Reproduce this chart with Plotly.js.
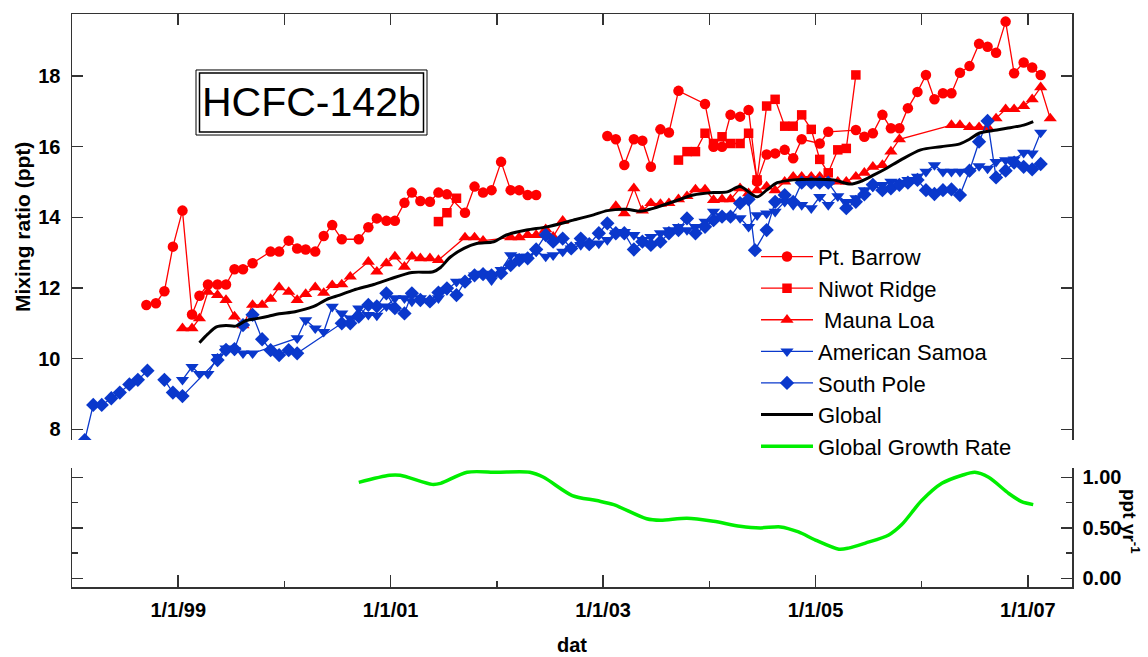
<!DOCTYPE html>
<html><head><meta charset="utf-8">
<script src="https://cdn.plot.ly/plotly-3.0.1.min.js"></script>
<style>html,body{margin:0;padding:0;background:#fff;}#chart{width:1148px;height:657px;}</style>
</head><body><div id="chart"></div>
<script>
// ---- data (decimal years, ppt) ----
const barrowX = [1998.70,1998.79,1998.87,1998.95,1999.04,1999.13,1999.20,1999.28,1999.37,1999.45,1999.53,1999.61,1999.70,1999.87,1999.95,2000.04,2000.12,2000.20,2000.29,2000.37,2000.45,2000.54,2000.70,2000.79,2000.87,2000.96,2001.04,2001.13,2001.20,2001.28,2001.37,2001.45,2001.53,2001.70,2001.79,2001.87,2001.95,2002.04,2002.13,2002.21,2002.29,2002.37,null,2003.04,2003.12,2003.20,2003.29,2003.37,2003.45,2003.54,2003.62,2003.71,2003.96,2004.04,2004.12,2004.20,2004.29,2004.37,2004.45,2004.54,2004.62,2004.71,2004.79,2004.87,2005.04,2005.12,2005.38,2005.46,2005.54,2005.63,2005.71,2005.79,2005.87,2005.96,2006.04,2006.12,2006.20,2006.28,2006.36,2006.45,2006.54,2006.62,2006.70,2006.79,2006.87,2006.96,2007.04,2007.12];
const barrowY = [11.52,11.57,11.91,13.17,14.19,11.25,11.78,12.10,12.10,12.10,12.53,12.53,12.70,13.03,13.03,13.34,13.12,13.09,13.03,13.47,13.78,13.38,13.38,13.72,13.97,13.90,13.90,14.41,14.70,14.46,14.44,14.70,14.65,14.13,14.87,14.70,14.77,15.57,14.77,14.77,14.63,14.63,null,16.30,16.21,15.48,16.21,16.17,15.43,16.49,16.40,17.58,17.21,16.00,16.00,16.90,16.85,17.04,15.01,15.78,15.81,15.91,15.67,16.21,16.09,16.42,16.47,16.28,16.38,16.90,16.52,16.52,17.09,17.55,18.03,17.34,17.51,17.51,18.09,18.28,18.91,18.83,18.66,19.54,18.08,18.38,18.24,18.03];

const niwotX = [2001.45,2001.53,2001.62,null,2003.71,2003.79,2003.87,2003.96,2004.04,2004.12,2004.20,2004.29,2004.37,2004.45,2004.54,2004.62,2004.71,2004.79,2004.87,2004.96,2005.04,2005.12,2005.21,2005.29,2005.38];
const niwotY = [13.88,14.13,14.54,null,15.62,15.86,15.86,16.38,16.09,16.28,16.09,16.09,16.38,15.06,17.15,17.34,16.58,16.58,16.90,16.49,15.64,15.26,15.91,15.95,18.03];

const maunaX = [1999.04,1999.13,1999.20,1999.28,1999.37,1999.45,1999.53,1999.61,1999.70,1999.79,1999.87,1999.95,2000.04,2000.12,2000.20,2000.29,2000.37,2000.45,2000.54,2000.62,2000.79,2000.87,2000.96,2001.04,2001.13,2001.20,2001.28,2001.37,2001.45,2001.70,2001.79,2001.87,2002.13,2002.21,2002.29,2002.37,2002.46,2002.53,2002.62,null,2003.12,2003.20,2003.29,2003.37,2003.45,2003.54,2003.62,2003.71,2003.79,2003.87,2003.96,2004.04,2004.12,2004.20,2004.29,2004.37,2004.45,2004.54,2004.62,2004.71,2004.79,2004.87,2004.96,2005.04,2005.12,2005.21,2005.29,2005.38,2005.46,2005.54,2005.63,2005.71,2005.79,2006.28,2006.36,2006.45,2006.54,2006.62,2006.70,2006.79,2006.87,2006.96,2007.04,2007.12,2007.21];
const maunaY = [10.86,10.86,11.14,11.89,11.80,11.66,11.19,10.94,11.52,11.52,11.69,12.02,11.89,11.66,11.83,12.02,11.86,12.08,12.10,12.32,12.74,12.46,12.70,12.89,12.60,12.89,12.84,12.84,12.79,13.43,13.43,13.34,13.43,13.43,13.50,13.50,13.66,13.45,13.90,null,14.32,14.11,14.82,14.19,14.40,14.38,14.40,14.51,14.60,14.79,14.79,14.49,14.51,14.51,14.82,14.68,14.76,14.87,14.76,15.01,15.15,15.15,15.15,15.15,15.01,15.01,15.01,15.15,15.26,15.43,15.48,15.86,16.21,16.61,16.61,16.55,16.55,16.55,16.80,17.06,17.06,17.15,17.34,17.68,16.80];

const samoaX = [1999.04,1999.13,1999.20,1999.28,1999.37,1999.45,1999.53,1999.61,1999.70,2000.12,2000.20,2000.29,2000.37,2000.45,2000.54,2000.62,2000.70,2000.79,2000.87,2000.96,2001.04,2001.13,2001.20,2001.28,2001.37,2001.45,2001.53,2001.62,2001.70,2001.79,2001.87,2001.95,2002.04,2002.13,2002.21,2002.29,2002.37,2002.46,2002.53,2002.62,2002.70,2002.79,2002.87,2002.96,2003.04,2003.12,2003.20,2003.29,2003.37,2003.45,2003.54,2003.62,2003.71,2003.79,2003.87,2003.96,2004.04,2004.12,2004.20,2004.29,2004.37,2004.45,2004.54,2004.62,2004.71,2004.79,2004.87,2004.96,2005.04,2005.12,2005.21,2005.29,2005.38,2005.46,2005.54,2005.63,2005.71,2005.79,2005.87,2005.96,2006.04,2006.12,2006.20,2006.28,2006.36,2006.45,2006.54,2006.62,2006.70,2006.79,2006.87,2006.96,2007.04,2007.12];
const samoaY = [9.40,9.77,9.57,9.57,10.05,10.29,10.24,10.15,10.15,10.58,11.09,10.86,10.76,11.47,11.28,11.14,11.42,11.24,11.22,11.48,11.71,11.71,11.62,11.71,11.62,11.71,11.94,12.18,12.18,12.36,12.41,12.22,12.51,12.93,12.89,12.89,13.03,12.89,12.93,13.03,13.12,13.22,13.22,13.26,13.36,13.55,13.59,13.50,13.36,13.45,13.55,13.64,13.73,13.64,13.73,13.88,14.16,14.02,14.02,13.98,13.73,14.06,14.11,14.16,14.44,14.35,14.35,14.26,14.58,14.35,14.60,14.44,14.54,14.77,14.87,14.92,15.01,14.98,15.06,15.15,15.29,15.48,15.29,15.29,15.29,15.29,15.45,15.38,15.57,15.62,15.64,15.83,15.81,16.40];

const poleX = [1998.12,1998.20,1998.28,1998.37,1998.45,1998.54,1998.62,1998.71,null,1998.87,1998.95,1999.04,1999.37,1999.45,1999.53,1999.61,1999.70,1999.79,1999.87,1999.95,2000.04,2000.12,2000.54,2000.62,2000.70,2000.79,2000.87,2000.96,2001.04,2001.13,2001.20,2001.28,2001.37,2001.45,2001.53,2001.62,2001.70,2001.79,2001.87,2001.95,2002.04,2002.13,2002.21,2002.29,2002.37,2002.46,2002.53,2002.62,2002.70,2002.79,2002.87,2002.96,2003.04,2003.12,2003.20,2003.29,2003.37,2003.45,2003.54,2003.62,2003.71,2003.79,2003.87,2003.96,2004.04,2004.12,2004.20,2004.29,2004.37,2004.43,2004.54,2004.62,2004.71,2004.79,2004.87,2004.96,2005.04,2005.12,2005.29,2005.38,2005.46,2005.54,2005.63,2005.71,2005.79,2005.87,2005.96,2006.04,2006.12,2006.20,2006.28,2006.36,2006.45,2006.54,2006.62,2006.70,2006.79,2006.87,2006.96,2007.04,2007.12];
const poleY = [7.69,8.69,8.69,8.88,9.04,9.27,9.40,9.66,null,9.40,9.04,8.94,9.96,10.25,10.27,10.95,11.24,10.55,10.24,10.10,10.24,10.15,11.00,11.00,11.19,11.52,11.48,11.85,11.43,11.28,11.85,11.66,11.62,11.87,11.99,11.80,12.18,12.36,12.39,12.36,12.42,12.65,12.79,12.84,13.09,13.50,13.31,13.40,13.12,13.40,13.24,13.55,13.83,13.55,13.55,13.09,13.31,13.22,13.31,13.55,13.64,13.97,13.55,13.73,13.92,14.02,14.02,14.40,14.51,13.07,13.64,14.44,14.63,14.44,14.98,14.98,14.98,14.98,14.26,14.44,14.65,14.92,14.77,14.82,14.92,14.98,15.06,14.77,14.66,14.77,14.79,14.63,15.32,16.14,16.73,15.13,15.32,15.55,15.43,15.36,15.51];

const globalX = [1999.20,1999.28,1999.36,1999.45,1999.54,1999.64,1999.75,1999.85,1999.95,2000.10,2000.27,2000.40,2000.52,2000.65,2000.84,2000.99,2001.20,2001.40,2001.47,2001.56,2001.69,2001.81,2001.97,2002.09,2002.28,2002.47,2002.72,2002.91,2003.04,2003.22,2003.35,2003.48,2003.66,2003.85,2004.04,2004.17,2004.29,2004.45,2004.54,2004.64,2004.79,2004.98,2005.17,2005.33,2005.42,2005.55,2005.67,2005.80,2005.99,2006.18,2006.36,2006.45,2006.54,2006.66,2006.80,2006.96,2007.05];
const globalY = [10.45,10.70,10.90,10.94,10.92,11.08,11.14,11.20,11.27,11.33,11.47,11.68,11.80,11.94,12.10,12.25,12.44,12.46,12.58,12.87,13.12,13.26,13.31,13.50,13.64,13.73,13.92,14.07,14.19,14.23,14.17,14.26,14.44,14.63,14.70,14.72,14.87,14.58,14.77,14.98,15.06,15.08,15.06,14.94,15.01,15.20,15.39,15.62,15.91,16.00,16.08,16.21,16.38,16.45,16.52,16.61,16.71];

const growthX = [2000.70,2000.99,2001.09,2001.39,2001.47,2001.72,2002.00,2002.31,2002.44,2002.71,2002.94,2003.10,2003.41,2003.54,2003.79,2004.04,2004.29,2004.48,2004.67,2004.84,2005.00,2005.22,2005.31,2005.47,2005.69,2005.81,2006.00,2006.19,2006.38,2006.50,2006.63,2006.82,2006.94,2007.05];
const growthY = [0.95,1.02,1.02,0.93,0.94,1.05,1.05,1.05,1.00,0.82,0.77,0.73,0.59,0.575,0.595,0.565,0.517,0.50,0.51,0.46,0.38,0.29,0.30,0.35,0.43,0.53,0.77,0.94,1.02,1.05,1.00,0.84,0.76,0.73];

const tickYears = [1999, 2001, 2003, 2005, 2007];
const tickLabels = ['1/1/99', '1/1/01', '1/1/03', '1/1/05', '1/1/07'];
const names = ['Pt. Barrow', 'Niwot Ridge', ' Mauna Loa', 'American Samoa', 'South Pole', 'Global', 'Global Growth Rate'];

// ---- styles ----
const RED = '#ff0000', BLUE = '#0a38cc';
function station(x, y, name, color, symbol, size) {
  return {x: x, y: y, name: name, type: 'scatter', mode: 'lines+markers', xaxis: 'x', yaxis: 'y',
    line: {color: color, width: 1.3}, marker: {color: color, symbol: symbol, size: size},
    connectgaps: false, hoverinfo: 'skip'};
}
const traces = [
  station(barrowX, barrowY, names[0], RED, 'circle', 10.5),
  station(niwotX, niwotY, names[1], RED, 'square', 9.5),
  station(maunaX, maunaY, names[2], RED, 'triangle-up', 11.5),
  station(samoaX, samoaY, names[3], BLUE, 'triangle-down', 11.5),
  station(poleX, poleY, names[4], BLUE, 'diamond', 11),
  {x: globalX, y: globalY, name: names[5], type: 'scatter', mode: 'lines', xaxis: 'x', yaxis: 'y',
    line: {color: '#000', width: 3, shape: 'spline', smoothing: 0.8}},
  {x: growthX, y: growthY, name: names[6], type: 'scatter', mode: 'lines', xaxis: 'x2', yaxis: 'y2',
    line: {color: '#00ee00', width: 3.5, shape: 'spline', smoothing: 0.8}}
];

const AX = '#333';
const tickFont = {family: 'Liberation Sans, Arial, sans-serif', size: 20, color: '#000', weight: 'bold'};
const xr = [1998.0, 2007.415];
const layout = {
  width: 1148, height: 657,
  margin: {l: 72, r: 76, t: 14, b: 70},
  paper_bgcolor: '#fff', plot_bgcolor: '#fff',
  showlegend: true,
  legend: {x: 0.684, y: 0.613, xanchor: 'left', yanchor: 'top', bgcolor: 'rgba(0,0,0,0)',
    font: {family: 'Liberation Sans, Arial, sans-serif', size: 22, color: '#000'},
    itemwidth: 52, tracegroupgap: 0},
  xaxis: {domain: [0, 1], range: xr, anchor: 'y', side: 'top', showline: true, linecolor: AX, linewidth: 1.5,
    ticks: 'inside', ticklen: 11, tickwidth: 1.5, tickcolor: AX, tickmode: 'array',
    tickvals: [1999,2000,2001,2002,2003,2004,2005,2006,2007], showticklabels: false,
    showgrid: false, zeroline: false},
  yaxis: {domain: [0.2565, 1], range: [7.697, 19.755], anchor: 'x', showline: true, mirror: 'ticks',
    linecolor: AX, linewidth: 1.5, ticks: 'inside', ticklen: 11, tickwidth: 1.5, tickcolor: AX,
    tickvals: [8,10,12,14,16,18], tickfont: tickFont, showgrid: false, zeroline: false, ticklabelstandoff: 6},
  xaxis2: {domain: [0, 1], range: xr, anchor: 'y2', showline: true, linecolor: AX, linewidth: 1.5,
    ticks: 'inside', ticklen: 12, tickwidth: 1.5, tickcolor: AX, tickmode: 'array',
    tickvals: tickYears, ticktext: tickLabels, tickfont: tickFont,
    minor: {ticks: 'inside', ticklen: 6, tickwidth: 1.5, tickcolor: AX, dtick: 1, tick0: 1998},
    showgrid: false, zeroline: false, ticklabelstandoff: 4},
  yaxis2: {domain: [0, 0.2077], range: [-0.084, 1.092], anchor: 'x2', side: 'right', showline: true, mirror: 'ticks',
    linecolor: AX, linewidth: 1.5, ticks: 'inside', ticklen: 11, tickwidth: 1.5, tickcolor: AX,
    tickvals: [0, 0.5, 1], tickformat: '.2f', tickfont: tickFont,
    minor: {ticks: 'inside', ticklen: 6, tickwidth: 1.5, tickcolor: AX, tickvals: [0.25, 0.75]},
    showgrid: false, zeroline: false, ticklabelstandoff: 5},
  shapes: [
    {type: 'rect', xref: 'paper', yref: 'paper', x0: 0.124, x1: 0.355, y0: 0.7888, y1: 0.9023, line: {color: '#000', width: 1}},
    {type: 'rect', xref: 'paper', yref: 'paper', x0: 0.1275, x1: 0.3515, y0: 0.7941, y1: 0.8970, line: {color: '#000', width: 1.5}}
  ],
  annotations: [
    {text: 'HCFC-142b', xref: 'paper', yref: 'paper', x: 0.2395, y: 0.8456, xanchor: 'center', yanchor: 'middle',
      showarrow: false, font: {family: 'Liberation Sans, Arial, sans-serif', size: 41, color: '#000'}},
    {text: 'Mixing ratio (ppt)', xref: 'paper', yref: 'paper', x: -0.049, y: 0.6283, xanchor: 'center', yanchor: 'middle',
      textangle: -90, showarrow: false, font: {family: 'Liberation Sans, Arial, sans-serif', size: 21, color: '#000', weight: 'bold'}},
    {text: 'dat', xref: 'paper', yref: 'paper', x: 0.5, y: -0.101, xanchor: 'center', yanchor: 'middle',
      showarrow: false, font: {family: 'Liberation Sans, Arial, sans-serif', size: 20, color: '#000', weight: 'bold'}},
    {text: 'ppt yr<sup>-1</sup>', xref: 'paper', yref: 'paper', x: 1.059, y: 0.1152, xanchor: 'center', yanchor: 'middle',
      textangle: 90, showarrow: false, font: {family: 'Liberation Sans, Arial, sans-serif', size: 19, color: '#000', weight: 'bold'}}
  ]
};
Plotly.newPlot('chart', traces, layout, {staticPlot: true, displayModeBar: false});
</script>
</body></html>
